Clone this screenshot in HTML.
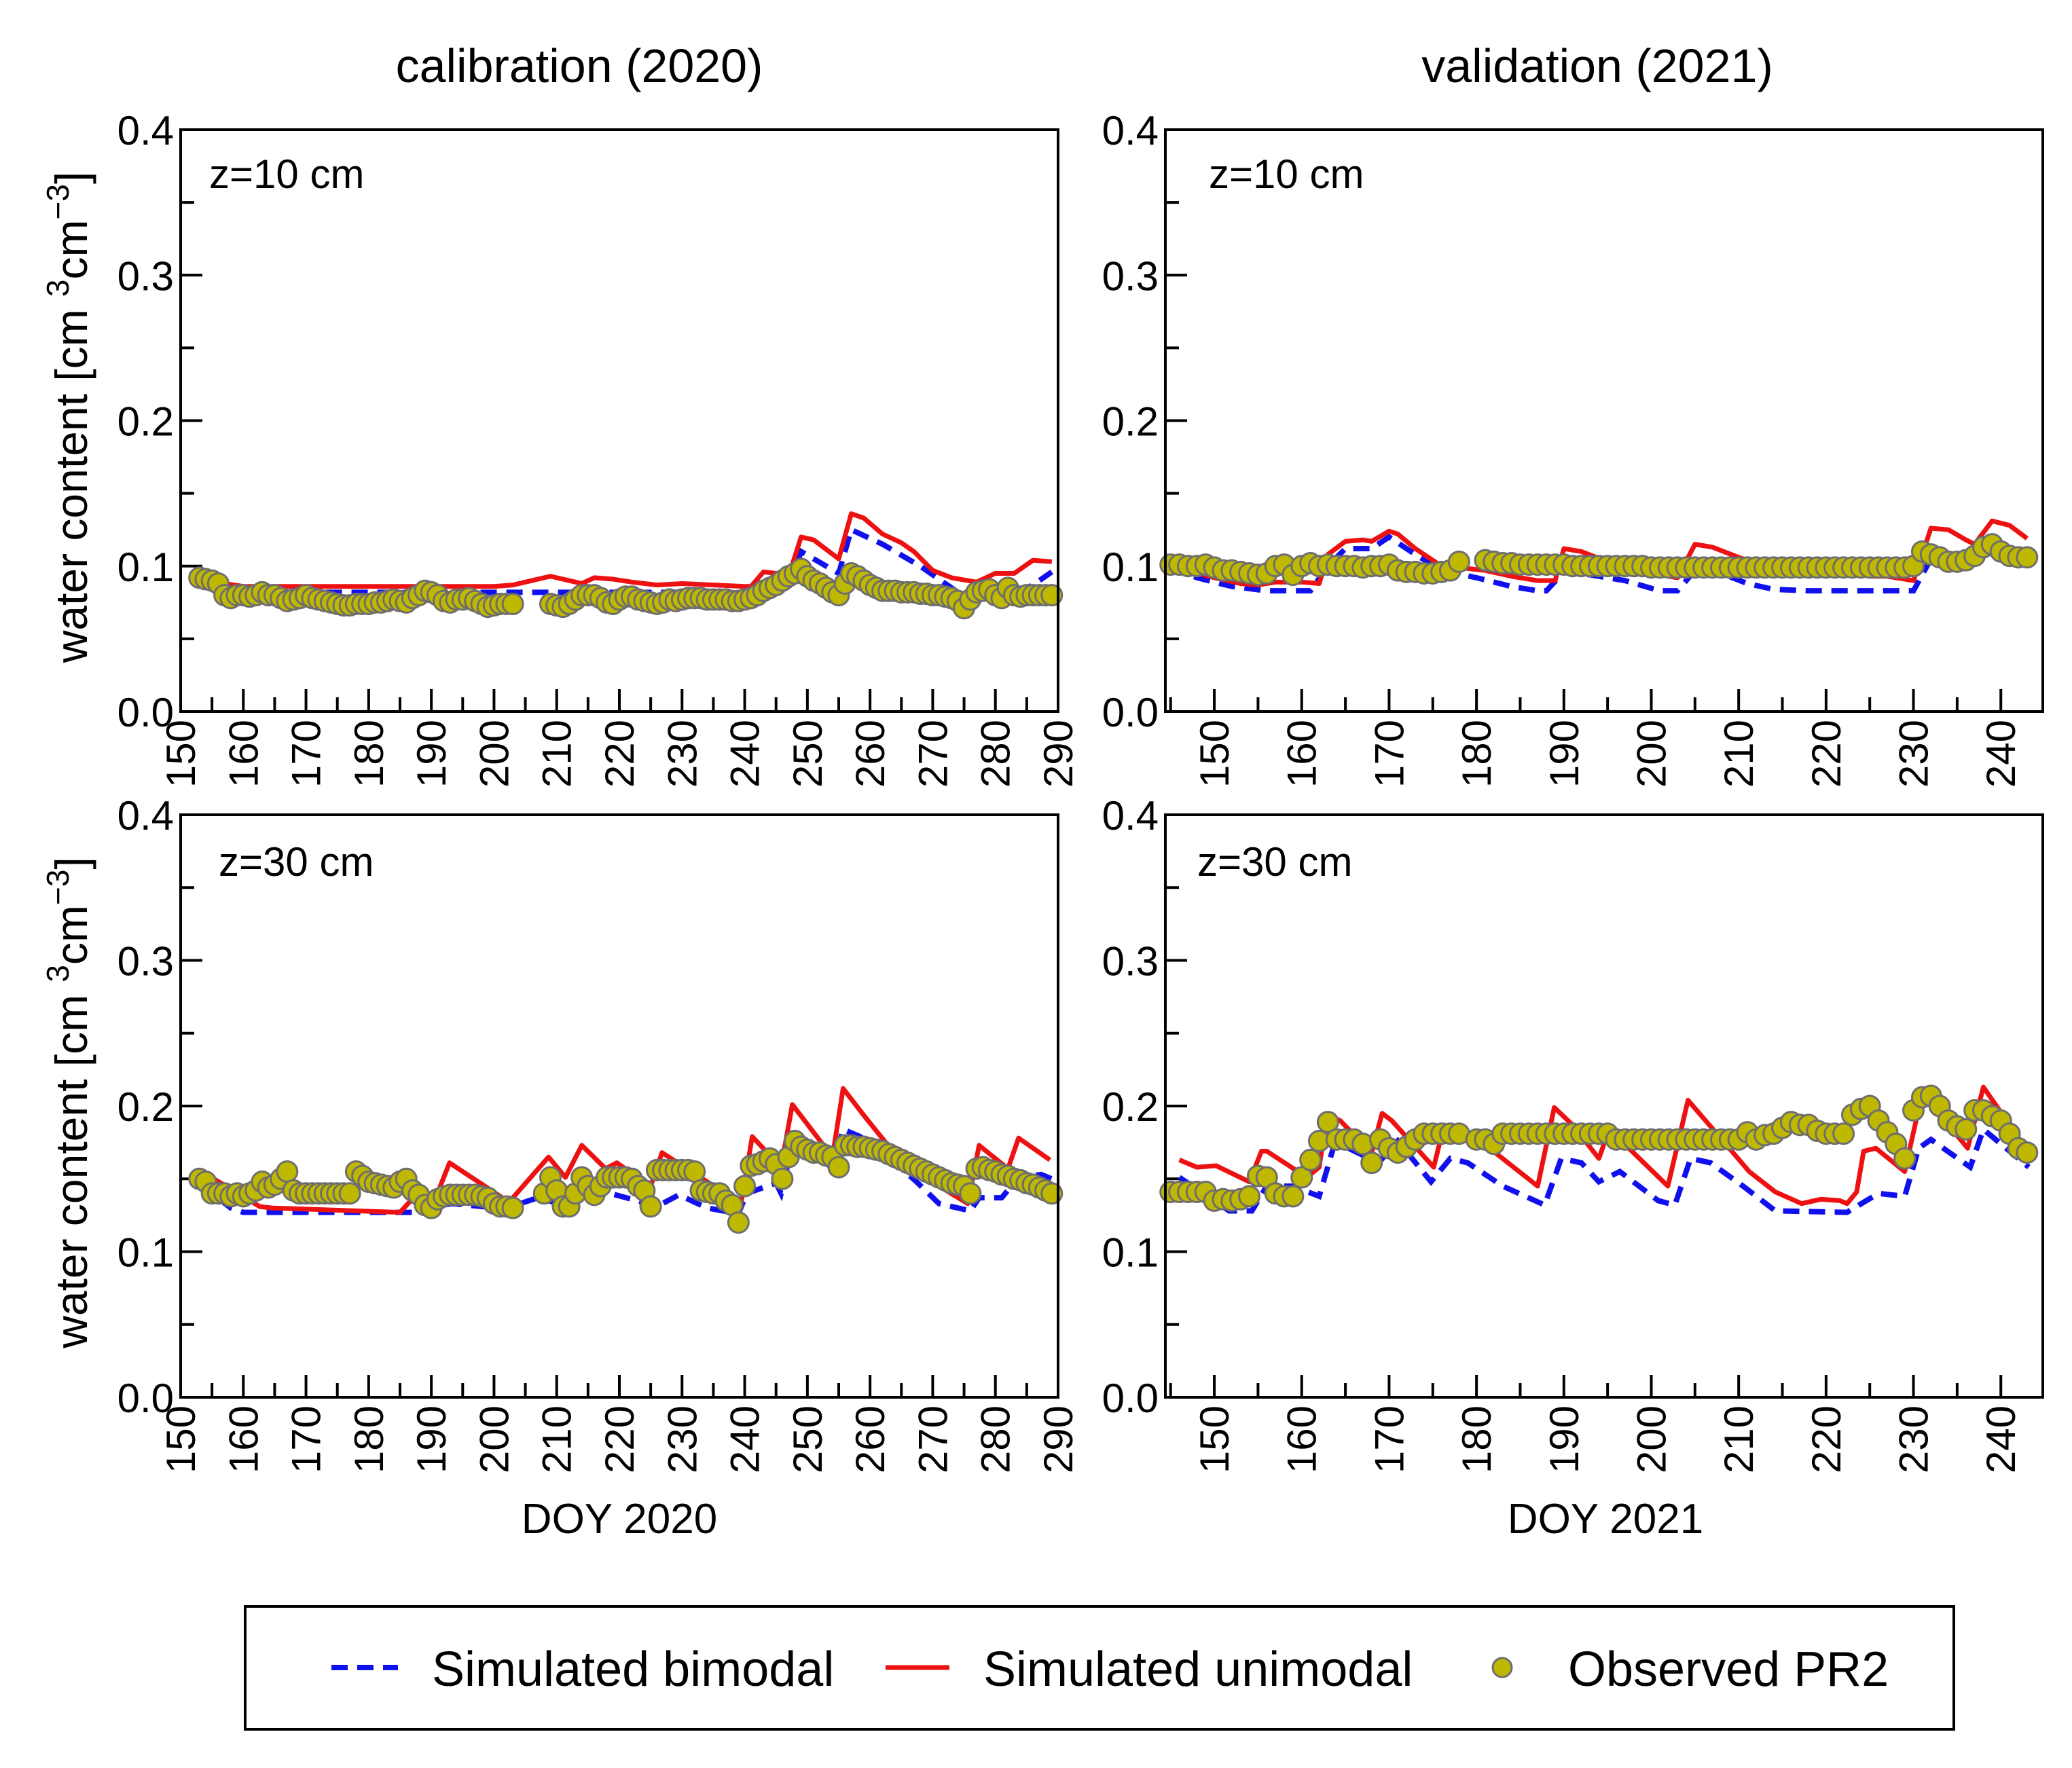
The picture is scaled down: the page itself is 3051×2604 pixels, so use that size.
<!DOCTYPE html>
<html><head><meta charset="utf-8"><style>
html,body{margin:0;padding:0;background:#fff;}
svg{display:block;font-family:"Liberation Sans",sans-serif;}
</style></head><body>
<svg id="fig" width="3051" height="2604" viewBox="0 0 3051 2604" xmlns="http://www.w3.org/2000/svg">
<text x="853" y="121" font-size="70" text-anchor="middle">calibration (2020)</text>
<text x="2352" y="121" font-size="70" text-anchor="middle">validation (2021)</text>
<text x="912" y="2258" font-size="62" text-anchor="middle">DOY 2020</text>
<text x="2364" y="2258" font-size="62" text-anchor="middle">DOY 2021</text>
<g id="legend">
<rect x="361" y="2366" width="2516" height="181" fill="#fff" stroke="#000" stroke-width="4"/>
<line x1="488" y1="2456" x2="586" y2="2456" stroke="#1010ee" stroke-width="8" stroke-dasharray="24 14"/>
<text x="636" y="2483" font-size="72">Simulated bimodal</text>
<line x1="1304" y1="2456" x2="1398" y2="2456" stroke="#ee1111" stroke-width="7"/>
<text x="1448" y="2483" font-size="72">Simulated unimodal</text>
<circle cx="2212" cy="2456" r="14" fill="#bfb800" stroke="#6e6e6e" stroke-width="3"/>
<text x="2309" y="2483" font-size="72">Observed PR2</text>
</g>
</svg>
<script>
// ---- data ----
const obsStartTL = 153;
const obsTL = [.092,.091,.090,.088,.080,.078,.080,.080,.079,.080,
.082,.080,.080,.078,.076,.077,.078,.080,.078,.077,
.076,.075,.074,.073,.073,.074,.074,.074,.075,.075,
.076,.077,.076,.075,.078,.080,.083,.082,.080,.076,
.075,.077,.077,.078,.076,.074,.072,.073,.074,.074,
.074,null,null,null,null,null,.074,.073,.072,.074,
.077,.080,.080,.080,.078,.075,.074,.077,.079,.079,
.077,.076,.075,.074,.075,.077,.076,.077,.078,.078,
.078,.077,.077,.077,.077,.076,.076,.077,.078,.080,
.083,.085,.087,.090,.093,.095,.098,.093,.090,.088,
.085,.082,.080,.088,.095,.093,.090,.087,.085,.083,
.083,.083,.082,.082,.082,.081,.081,.080,.080,.079,
.078,.076,.071,.077,.082,.083,.084,.080,.078,.085,
.080,.079,.080,.080,.080,.080,.080];
const biDaysTL = [153,157,160,245,247,249,253,255,257,262,268,274,284,287,289];
const biValsTL = [.092,.084,.082,.082,.085,.110,.100,.095,.125,.115,.100,.082,.082,.090,.096];
const uniDaysTL = [153,157,160,200,203,206,209,214,216,219,222,226,230,240,241,243,245,247,249,251,255,257,259,262,265,267,270,273,277,280,283,286,289];
const uniValsTL = [.093,.088,.086,.086,.087,.090,.093,.088,.092,.091,.089,.087,.088,.086,.086,.096,.095,.093,.120,.118,.105,.136,.133,.122,.116,.110,.097,.092,.089,.095,.095,.104,.103];

const obsStartTR = 145;
const obsTR = [.101,.101,.100,.100,.101,.099,.097,.097,.096,.095,
.094,.095,.100,.101,.094,.100,.102,.100,.101,.100,
.100,.100,.099,.100,.100,.101,.097,.096,.096,.095,
.095,.096,.097,.103,null,null,.104,.103,.102,.102,
.101,.101,.101,.101,.101,.101,.100,.100,.100,.100,
.100,.100,.100,.100,.100,.099,.099,.099,.099,.099,
.099,.099,.099,.099,.099,.099,.099,.099,.099,.099,
.099,.099,.099,.099,.099,.099,.099,.099,.099,.099,
.099,.099,.099,.099,.099,.100,.110,.108,.106,.103,
.103,.104,.107,.113,.115,.110,.107,.106,.106];
const biDaysTR = [145,148,152,156,161,163,165,168,170,173,176,180,184,187,188,190,193,197,201,203,205,208,211,214,218,229,230,232,234,236,238,239,241,243];
const biValsTR = [.100,.092,.086,.083,.083,.100,.112,.112,.120,.108,.097,.092,.086,.083,.083,.096,.094,.090,.083,.083,.097,.095,.088,.084,.083,.083,.083,.105,.104,.100,.107,.117,.110,.105];
const uniDaysTR = [145,147,150,153,155,157,160,162,163,165,167,168,170,171,173,176,178,181,184,187,189,190,192,195,198,201,203,205,207,210,213,215,220,222,225,227,230,232,234,236,237,239,241,243];
const uniValsTR = [.104,.097,.092,.088,.087,.089,.089,.088,.108,.117,.118,.117,.124,.122,.112,.100,.099,.097,.093,.090,.090,.112,.110,.103,.099,.094,.092,.115,.113,.106,.100,.097,.096,.097,.093,.093,.090,.126,.125,.118,.115,.131,.128,.119];

const obsStartBL = 153;
const obsBL = [.150,.148,.140,.140,.140,.138,.140,.138,.140,.142,
.148,.144,.146,.150,.155,.142,.140,.140,.140,.140,
.140,.140,.140,.140,.140,.155,.152,.148,.147,.146,
.145,.144,.148,.150,.142,.139,.132,.130,.136,.138,
.139,.139,.139,.139,.139,.138,.137,.133,.131,.131,
.130,null,null,null,null,.140,.151,.142,.131,.131,
.140,.151,.145,.139,.145,.151,.151,.151,.151,.150,
.145,.142,.131,.156,.156,.156,.156,.156,.156,.155,
.142,.141,.140,.140,.135,.132,.120,.145,.159,.160,
.162,.164,.160,.150,.165,.176,.172,.170,.168,.168,
.166,.165,.158,.173,.173,.172,.172,.171,.170,.169,
.167,.165,.163,.161,.159,.157,.155,.153,.151,.149,
.147,.146,.145,.140,.157,.158,.156,.155,.153,.152,
.150,.149,.147,.146,.144,.142,.140];
const biDaysBL = [153,155,158,160,185,188,189,193.4,198,202,207,212,215,222,226,229.5,234,239,240.3,245,245.8,247.6,254,255.7,258.4,263,267.4,271,276,277.4,281,283.7,287.3,289];
const biValsBL = [.148,.140,.130,.127,.127,.127,.130,.133,.131,.130,.137,.131,.144,.136,.131,.139,.130,.126,.140,.147,.140,.173,.158,.184,.179,.165,.148,.133,.128,.137,.137,.151,.153,.150];
const uniDaysBL = [153,162.6,164.5,185,188,190.6,192.9,202.4,208.7,211.4,214,217.8,219.6,225,226.8,239.4,241.2,245.8,247.6,254,255.7,259.3,263.8,271,275.6,277.4,282,283.7,288.7];
const uniValsBL = [.156,.131,.130,.127,.141,.136,.161,.134,.165,.151,.173,.157,.161,.145,.168,.133,.179,.158,.201,.165,.212,.192,.168,.145,.133,.173,.157,.178,.163];

const obsStartBR = 145;
const obsBR = [.141,.141,.141,.141,.141,.135,.136,.135,.136,.138,
.152,.151,.140,.138,.138,.151,.163,.176,.189,.177,
.177,.177,.174,.161,.177,.171,.168,.172,.177,.181,
.181,.181,.181,.181,null,.177,.177,.174,.181,.181,
.181,.181,.181,.181,.181,.181,.181,.181,.181,.181,
.181,.177,.177,.177,.177,.177,.177,.177,.177,.177,
.177,.177,.177,.177,.177,.177,.182,.177,.180,.181,
.185,.189,.187,.187,.183,.181,.181,.181,.194,.198,
.200,.190,.182,.174,.164,.197,.206,.207,.200,.190,
.186,.184,.197,.197,.193,.190,.181,.171,.168];
const biDaysBR = [146,151.7,154.3,156,159,162,163.6,165,168.8,171,174.8,177,179,183,187.8,189.7,192,194,196.4,200.8,202.7,204.5,206.8,210.5,214.2,222.4,224.6,226,229,230.6,232,236.5,238,240,243.2];
const biValsBR = [.151,.128,.128,.145,.145,.138,.171,.172,.161,.176,.148,.164,.161,.145,.132,.164,.161,.148,.155,.135,.132,.164,.161,.145,.128,.127,.135,.140,.138,.171,.177,.158,.184,.174,.158];
const uniDaysBR = [146,148,150.2,154,155.4,156,160.6,162,162.9,164.4,168,169.2,170.3,175.1,176.3,178.5,181.5,187,188.9,191,194,195.2,201.9,204.2,207.5,211.2,214.2,217.2,219.4,221.6,222.4,223.5,224.3,225.7,229,231,234,236.2,238,242.5];
const uniValsBR = [.163,.158,.159,.148,.169,.169,.151,.158,.194,.190,.168,.195,.190,.158,.187,.177,.171,.145,.199,.187,.164,.184,.145,.204,.181,.155,.141,.133,.136,.135,.133,.141,.169,.171,.155,.209,.187,.171,.213,.174];

const xTicks2020 = [150,160,170,180,190,200,210,220,230,240,250,260,270,280,290];
const xTicks2021 = [150,160,170,180,190,200,210,220,230,240];
const yTickLabels = ["0.0","0.1","0.2","0.3","0.4"];
const yTicks = [0,0.1,0.2,0.3,0.4];

// ---- drawing ----
const NS="http://www.w3.org/2000/svg";
const svg=document.getElementById('fig');
function mk(tag,attrs,parent){const e=document.createElementNS(NS,tag);for(const k in attrs)e.setAttribute(k,attrs[k]);(parent||svg).appendChild(e);return e;}

const panels=[
 {id:'cal-10',x0:266,x1:1558,y0:191,y1:1048,d0:150,d1:290,ticks:xTicks2020,minStart:155,label:'z=10 cm',lx:308,ly:277,obsStart:obsStartTL,obs:obsTL,bd:biDaysTL,bv:biValsTL,ud:uniDaysTL,uv:uniValsTL,ylab:true},
 {id:'val-10',x0:1716,x1:3008,y0:191,y1:1048,d0:144.4,d1:244.8,ticks:xTicks2021,minStart:145,label:'z=10 cm',lx:1780,ly:277,obsStart:obsStartTR,obs:obsTR,bd:biDaysTR,bv:biValsTR,ud:uniDaysTR,uv:uniValsTR,ylab:false},
 {id:'cal-30',x0:266,x1:1558,y0:1200,y1:2058,d0:150,d1:290,ticks:xTicks2020,minStart:155,label:'z=30 cm',lx:322,ly:1290,obsStart:obsStartBL,obs:obsBL,bd:biDaysBL,bv:biValsBL,ud:uniDaysBL,uv:uniValsBL,ylab:true},
 {id:'val-30',x0:1716,x1:3008,y0:1200,y1:2058,d0:144.4,d1:244.8,ticks:xTicks2021,minStart:145,label:'z=30 cm',lx:1763,ly:1290,obsStart:obsStartBR,obs:obsBR,bd:biDaysBR,bv:biValsBR,ud:uniDaysBR,uv:uniValsBR,ylab:false}
];

panels.forEach(p=>{
 const g=mk('g',{});
 
 
 const xs=d=>p.x0+(d-p.d0)/(p.d1-p.d0)*(p.x1-p.x0);
 const ys=v=>p.y1-v/0.4*(p.y1-p.y0);
 const cp=mk('clipPath',{id:'clip-'+p.id},g);
 mk('rect',{x:p.x0,y:p.y0,width:p.x1-p.x0,height:p.y1-p.y0},cp);
 yTicks.forEach((v,i)=>{
  const y=ys(v);
  const t=mk('line',{x1:p.x0,x2:p.x0+32,y1:y,y2:y,stroke:'#000','stroke-width':4},g);
  
  
  const tx=mk('text',{x:p.x0-10,y:y+22,'font-size':60,'text-anchor':'end'},g);
  tx.textContent=yTickLabels[i];
  
  
  if(i<yTicks.length-1){const ym=ys(v+0.05);
   const m=mk('line',{x1:p.x0,x2:p.x0+20,y1:ym,y2:ym,stroke:'#000','stroke-width':4},g);
   
   }
 });
 p.ticks.forEach(d=>{
  const x=xs(d);
  const t=mk('line',{x1:x,x2:x,y1:p.y1,y2:p.y1-33,stroke:'#000','stroke-width':4},g);
  
  
  const tx=mk('text',{x:0,y:0,'font-size':60,'text-anchor':'end',transform:`translate(${x+21},${p.y1+12}) rotate(-90)`},g);
  tx.textContent=d;
  
  
 });
 for(let d=p.minStart;d<p.d1;d+=10){const x=xs(d);
  const m=mk('line',{x1:x,x2:x,y1:p.y1,y2:p.y1-21,stroke:'#000','stroke-width':4},g);
  
  }
 const dg=mk('g',{'clip-path':`url(#clip-${p.id})`},g);
 const bi=mk('polyline',{points:p.bd.map((d,i)=>xs(d)+','+ys(p.bv[i])).join(' '),fill:'none',stroke:'#1010ee','stroke-width':8,'stroke-dasharray':'24 14'},dg);
 
 
 const un=mk('polyline',{points:p.ud.map((d,i)=>xs(d)+','+ys(p.uv[i])).join(' '),fill:'none',stroke:'#ee1111','stroke-width':7,'stroke-linejoin':'round'},dg);
 
 
 p.obs.forEach((v,i)=>{ if(v===null)return;
  const c=mk('circle',{cx:xs(p.obsStart+i),cy:ys(v),r:15,fill:'#bfb800',stroke:'#6e6e6e','stroke-width':3},g);
  
  
 });
 const fr=mk('rect',{x:p.x0,y:p.y0,width:p.x1-p.x0,height:p.y1-p.y0,fill:'none',stroke:'#000','stroke-width':4},g);
 
 
 const lb=mk('text',{x:p.lx,y:p.ly,'font-size':60},g);
 lb.textContent=p.label;
 
 
 if(p.ylab){
  const cy=(p.y0+p.y1)/2;
  const yl=mk('text',{x:0,y:0,'font-size':66,'text-anchor':'middle',transform:`translate(128,${cy-5}) rotate(-90)`},g);
  
  
  yl.appendChild(document.createTextNode('water content [cm '));
  const s1=mk('tspan',{'font-size':46,dy:-27},yl); s1.textContent='3';
  const s2=mk('tspan',{dy:27},yl); s2.textContent='cm';
  const s3=mk('tspan',{'font-size':46,dy:-27},yl); s3.textContent='\u22123';
  const s4=mk('tspan',{dy:27},yl); s4.textContent=']';
 }
});
</script>
</body></html>
